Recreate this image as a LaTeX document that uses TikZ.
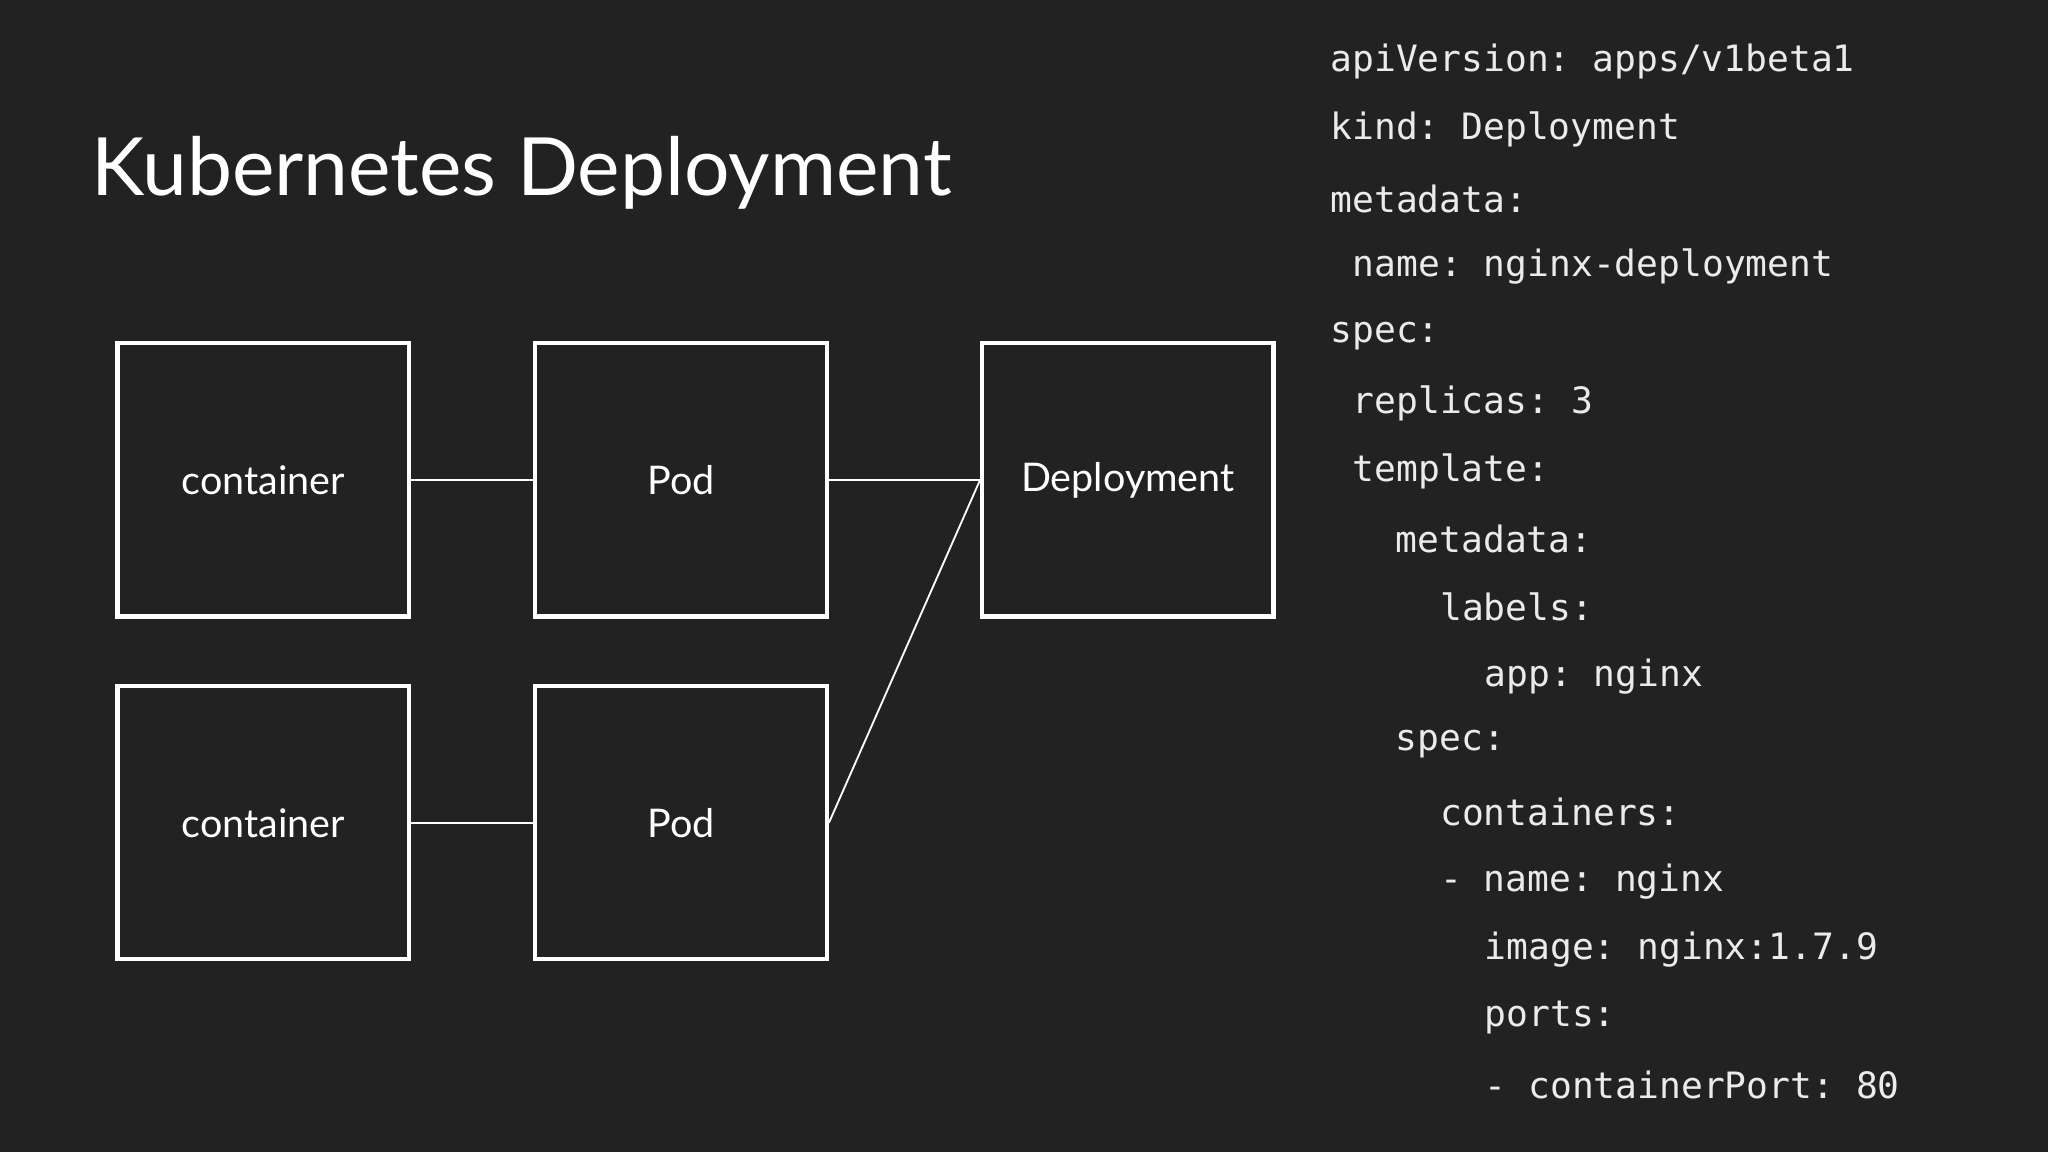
\documentclass[tikz,border=0pt]{standalone}
\usepackage{fontspec}
\setmainfont{Lato}
\setmonofont{DejaVu Sans Mono}
\usetikzlibrary{positioning}
\definecolor{bgdark}{HTML}{222222}
\tikzset{
  kbox/.style={draw=white,line width=0.9pt,minimum width=2.23cm,minimum height=2.09cm,text=white,font=\fontsize{8.6}{10}\selectfont},
  link/.style={draw=white,line width=0.4pt},
  yaml/.style={anchor=west,inner sep=0pt,text=white!92!black,font=\ttfamily\fontsize{7.9}{9}\selectfont}
}
\begin{document}
\begin{tikzpicture}[x=0.01cm,y=-0.01cm]
      \fill[bgdark] (0,0) rectangle (1568,882);
      \node[anchor=base west,inner sep=0pt,text=white,font=\fontsize{17.5}{20}\selectfont] (title) at (69,150) {Kubernetes Deployment};
      \node[kbox] (cont1) at (201.5,367.5) {container};
      \node[kbox] (pod1) at (521.5,367.5) {Pod};
      \node[kbox] (deploy) at (863.5,367.5) {Deployment};
      \node[kbox] (cont2) at (201.5,630) {container};
      \node[kbox] (pod2) at (521.5,630) {Pod};
      \draw[link] (cont1) -- (pod1);
      \draw[link] (pod1) -- (deploy);
      \draw[link] (cont2) -- (pod2);
      \draw[link] (pod2.east) -- (deploy.west);
      % manifest
      \foreach \cx/\cy/\ctext [count=\i] in {
        1018/47/{apiVersion: apps/v1beta1},
        1018/99/{kind: Deployment},
        1018/152/{metadata:},
        1035/204/{name: nginx-deployment},
        1018/257/{spec:},
        1035/309/{replicas: 3},
        1035/361/{template:},
        1068/413/{metadata:},
        1102/465/{labels:},
        1136/518/{app: nginx},
        1068/570/{spec:},
        1102/622/{containers:},
        1102/675/{- name: nginx},
        1136/727/{image: nginx:1.7.9},
        1136/779/{ports:},
        1136/831/{- containerPort: 80}}
        \node[yaml] (line\i) at (\cx,\cy) {\ctext};
\end{tikzpicture}
\end{document}
